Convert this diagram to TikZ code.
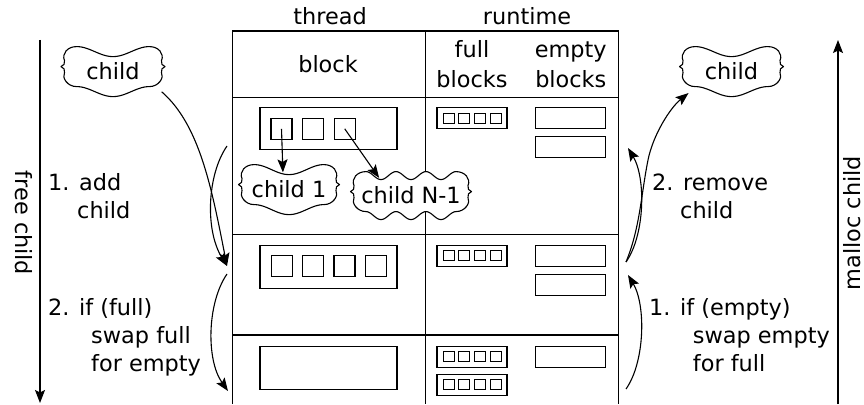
\documentclass[tikz,border=0pt]{standalone}
\usepackage{fontspec}
\setmainfont{DejaVu Sans}
\usetikzlibrary{arrows.meta,calc}
\pgfdeclarelayer{behind}
\pgfsetlayers{behind,main}

\tikzset{
  ln/.style={line width=1.1pt},
  lbl/.style={font=\fontsize{22.4}{28}\selectfont, inner sep=0pt},
  blk/.style={draw, ln, inner sep=0pt, minimum width=137pt},
  sq/.style={draw, ln, inner sep=0pt, minimum size=21pt},
  fb/.style={draw, ln, inner sep=0pt, minimum width=70pt, minimum height=21pt},
  fsq/.style={draw, line width=1pt, inner sep=0pt, minimum width=11pt, minimum height=10pt},
  eb/.style={draw, ln, inner sep=0pt, minimum width=70pt, minimum height=21pt},
  cloudbox/.style={lbl},
  arr/.style={ln, -{Stealth[length=13pt,width=10pt,inset=2.5pt]}},
}

% a block of full children: outer frame with four small slots
\newcommand\fullblock[3]{%
  \node[fb] (#1) at (#2,#3) {};
  \foreach \k [count=\i] in {-23.5,-7.8,7.8,23.5}
    \node[fsq] (#1-\i) at ($(#1)+(\k,0)$) {};
}

% wavy outline with a label: name, cx, cy, inner width, height, waves, amplitude, text
% top and bottom are waves with crests at both ends, the ends curl into lobes
\newcommand\wavecloud[8]{%
  \pgfmathsetmacro\xl{#2-#4/2}\pgfmathsetmacro\xr{#2+#4/2}%
  \pgfmathsetmacro\per{#4/(2*#6+1)}%
  \pgfmathsetmacro\yt{#3-#5/2-#7}\pgfmathsetmacro\yb{#3+#5/2-#7}%
  \pgfmathsetmacro\ym{#3-#7}\pgfmathsetmacro\ya{\ym-6}\pgfmathsetmacro\yc{\ym+6}%
  \filldraw[ln, fill=white, line join=round]
    plot[domain=0:1, samples=61] ({\xl+#4*\x},{#3-#5/2+#7*cos((#4*\x-#4/2)/\per*360)})
    .. controls (\xr+9,\yt) and (\xr+15,\ya-7) .. (\xr+12,\ya)
    .. controls (\xr+11,\ya+3) and (\xr+13,\ym-1) .. (\xr+15.5,\ym)
    .. controls (\xr+13,\ym+1) and (\xr+11,\yc-3) .. (\xr+12,\yc)
    .. controls (\xr+15,\yc+5) and (\xr+9,\yb) .. (\xr,\yb)
    -- plot[domain=0:1, samples=61] ({\xr-#4*\x},{#3+#5/2+#7*cos((#4/2-#4*\x)/\per*360)})
    .. controls (\xl-9,\yb) and (\xl-15,\yc+5) .. (\xl-12,\yc)
    .. controls (\xl-11,\yc-3) and (\xl-13,\ym+1) .. (\xl-15.5,\ym)
    .. controls (\xl-13,\ym-1) and (\xl-11,\ya+3) .. (\xl-12,\ya)
    .. controls (\xl-15,\ya-7) and (\xl-9,\yt) .. (\xl,\yt) -- cycle;
  \node[cloudbox, minimum width=#4pt+24pt, minimum height=#5pt] (#1) at (#2,#3) {#8};
}

\begin{document}
\begin{tikzpicture}[x=1pt, y=-1pt]
\useasboundingbox (0,0) rectangle (864,404);

% table frame
\draw[ln] (232.7,404) -- (232.7,31) -- (618.3,31) -- (618.3,404);
\draw[ln] (425.7,31) -- (425.7,404);
\draw[ln] (232.7,97.3) -- (618.3,97.3);
\draw[ln] (232.7,234.7) -- (618.3,234.7);
\draw[ln] (232.7,335) -- (618.3,335);

% headings
\node[lbl, anchor=base] (hThread) at (330,25) {thread};
\node[lbl, anchor=base] (hRuntime) at (527,25) {runtime};
\node[lbl, anchor=base] (hBlock) at (328,73) {block};
\node[lbl, anchor=base] (hFull) at (472,58) {full};
\node[lbl, anchor=base] (hFullB) at (472,87) {blocks};
\node[lbl, anchor=base] (hEmpty) at (570.8,58) {empty};
\node[lbl, anchor=base] (hEmptyB) at (570.8,87) {blocks};

% row 1
\node[blk, minimum height=42pt] (b1) at (328.5,128.2) {};
\node[sq] (t1a) at (281.5,128.8) {};
\node[sq] (t1b) at (313.2,128.8) {};
\node[sq] (t1c) at (344.7,128.8) {};
\fullblock{f1}{472}{118.2}
\node[eb] (e1a) at (570.8,118.2) {};
\node[eb] (e1b) at (570.8,146.7) {};

% row 2
\node[blk, minimum height=43pt] (b2) at (328.5,266.7) {};
\node[sq] (t2a) at (281.7,266.3) {};
\node[sq] (t2b) at (313.3,266.3) {};
\node[sq] (t2c) at (344.5,266.3) {};
\node[sq] (t2d) at (376,266.3) {};
\fullblock{f2}{472}{255.8}
\node[eb] (e2a) at (570.8,255.8) {};
\node[eb] (e2b) at (570.8,285.2) {};

% row 3
\node[blk, minimum height=42.6pt] (b3) at (328.5,368) {};
\fullblock{f3a}{472}{356.7}
\fullblock{f3b}{472}{384.8}
\node[eb] (e3a) at (570.8,356.7) {};

% children
\wavecloud{cl}{113}{71.6}{73}{40}{0}{5}{child}
\wavecloud{cr}{731.5}{71.6}{73}{40}{0}{5}{child}
\wavecloud{c1}{289}{189.6}{70}{40}{0}{5}{child 1}
\wavecloud{cN}{411}{195.6}{90}{40}{1}{4}{child N-1}

\draw[arr, shorten >=-3pt] (t1a.center) -- (c1.107);
\draw[arr, shorten >=-3pt] (t1c.center) -- (cN.149);

% free child side
\coordinate (fcTop) at (40,40);
\coordinate (fcBot) at (40,403);
\draw[arr] (fcTop) -- (fcBot);
\node[lbl, rotate=-90] (freeLbl) at (24,223) {free child};

\coordinate (L1s) at (227,146);
\coordinate (L1e) at (227,266);
\coordinate (L2s) at (227,274);
\coordinate (L2e) at (228,391);
\begin{pgfonlayer}{behind}
\draw[arr] (cl.south east) .. controls (200,125) and (212,190) .. (L1e);
\end{pgfonlayer}
\draw[arr] (L1s) .. controls (207,175) and (205,230) .. (L1e);
\draw[arr] (L2s) .. controls (207,303) and (206,360) .. (L2e);

\node[lbl, anchor=base west] (addA) at (48,190) {1. add};
\node[lbl, anchor=base west] (addB) at (77,218) {child};
\node[lbl, anchor=base west] (swA) at (48,315) {2. if (full)};
\node[lbl, anchor=base west] (swB) at (91,343) {swap full};
\node[lbl, anchor=base west] (swC) at (91,371) {for empty};

% malloc child side
\coordinate (mcBot) at (838,404);
\coordinate (mcTop) at (838,40);
\draw[arr] (mcBot) -- (mcTop);
\node[lbl, rotate=90] (mallocLbl) at (852,223) {malloc child};

\coordinate (R1s) at (626,262);
\coordinate (R1e) at (628,148);
\coordinate (R2s) at (626,389);
\coordinate (R2e) at (628,275);
\draw[arr] (R1s) .. controls (645,235) and (646,178) .. (R1e);
\draw[arr] (R2s) .. controls (645,362) and (646,305) .. (R2e);
\draw[arr, shorten >=2pt] (R1s) .. controls (640,228) and (641,195) .. (648,160)
                 .. controls (653,135) and (670,108) .. (cr.-154);

\node[lbl, anchor=base west] (rmA) at (652,190) {2. remove};
\node[lbl, anchor=base west] (rmB) at (680,218) {child};
\node[lbl, anchor=base west] (seA) at (649,315) {1. if (empty)};
\node[lbl, anchor=base west] (seB) at (692.7,343) {swap empty};
\node[lbl, anchor=base west] (seC) at (692.7,371) {for full};
\end{tikzpicture}
\end{document}
